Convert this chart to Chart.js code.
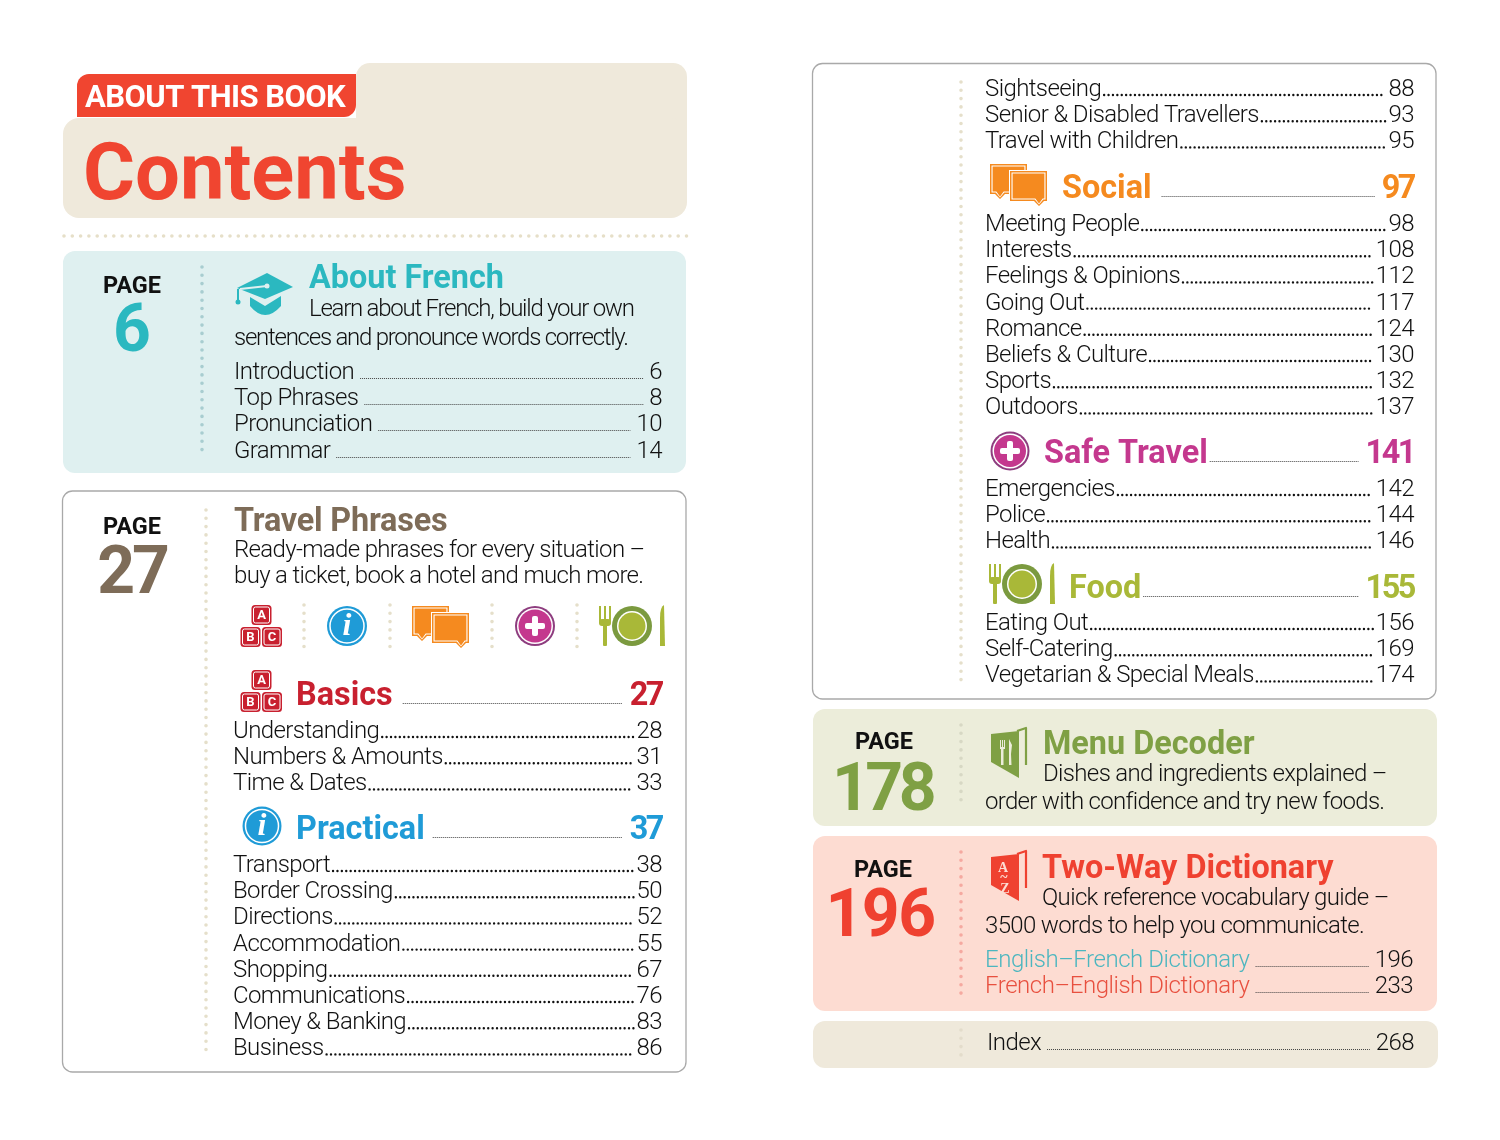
<!DOCTYPE html>
<html>
<head>
<meta charset="utf-8">
<title>Contents</title>
<script src="https://cdn.jsdelivr.net/npm/chart.js@4/dist/chart.umd.min.js"></script>
<style>
  html, body { margin: 0; padding: 0; background: #fff; }
  canvas { display: block; }
</style>
</head>
<body>
<canvas id="contentsChart" width="1500" height="1140"></canvas>
<script>
// contents rows: names and page numbers
const aboutLabels = ['Introduction', 'Top Phrases', 'Pronunciation', 'Grammar'];
const aboutPages = [6, 8, 10, 14];
const basicsLabels = ['Understanding', 'Numbers & Amounts', 'Time & Dates'];
const basicsPages = [28, 31, 33];
const practicalLabels = ['Transport', 'Border Crossing', 'Directions', 'Accommodation', 'Shopping', 'Communications', 'Money & Banking', 'Business'];
const practicalPages = [38, 50, 52, 55, 67, 76, 83, 86];
const practicalMoreLabels = ['Sightseeing', 'Senior & Disabled Travellers', 'Travel with Children'];
const practicalMorePages = [88, 93, 95];
const socialLabels = ['Meeting People', 'Interests', 'Feelings & Opinions', 'Going Out', 'Romance', 'Beliefs & Culture', 'Sports', 'Outdoors'];
const socialPages = [98, 108, 112, 117, 124, 130, 132, 137];
const safeLabels = ['Emergencies', 'Police', 'Health'];
const safePages = [142, 144, 146];
const foodLabels = ['Eating Out', 'Self-Catering', 'Vegetarian & Special Meals'];
const foodPages = [156, 169, 174];
const dictionaryLabels = ['English–French Dictionary', 'French–English Dictionary'];
const dictionaryPages = [196, 233];
const headingLabels = ['Basics', 'Practical', 'Social', 'Safe Travel', 'Food'];
const headingPages = [27, 37, 97, 141, 155];

const ROW = 26.2;
const LEFT_X = 233, LEFT_END = 662, RIGHT_X = 985, RIGHT_END = 1414;
const BODY = '300 24px Roboto';
const HEAD = '700 32.4px Roboto';
const BIG = '700 66px Roboto';
const PAGE = '700 23.5px Roboto';
const INK = '#111';
const BODY_SP = '-0.6px', NUM_SP = '-2.4px', BIG_SP = '-3px';

const measure = document.createElement('canvas').getContext('2d');
function textWidth(str, font, spacing) {
    measure.font = font;
    measure.letterSpacing = spacing || '0px';
    return measure.measureText(str).width;
}

function dotted(x1, y1, x2, y2, color, width, gap) {
    return {
        data: [{ x: x1, y: y1 }, { x: x2, y: y2 }],
        borderColor: color, borderWidth: width, borderDash: [0, gap],
        borderCapStyle: 'round', pointRadius: 0, tension: 0
    };
}
function fine(x1, x2, y) {
    return {
        data: [{ x: x1, y: y }, { x: x2, y: y }],
        borderColor: '#444', borderWidth: 1, borderDash: [1, 1],
        pointRadius: 0, tension: 0
    };
}

const datasets = [];
const texts = [];

function put(str, x, y, font, color, align, spacing) {
    texts.push({ str, x, y, font, color, align: align || 'left', spacing: spacing || '0px' });
}

// rows with round dot leaders
function dotRows(labels, pages, x, end, y0) {
    labels.forEach((name, i) => {
        const y = y0 + i * ROW;
        put(name, x, y, BODY, INK, 'left', BODY_SP);
        put(String(pages[i]), end, y, BODY, INK, 'right', BODY_SP);
        const from = x + textWidth(name, BODY, BODY_SP) + 3;
        const to = end - textWidth(String(pages[i]), BODY, BODY_SP) - 3;
        datasets.push(dotted(from, y - 1, to, y - 1, '#111', 2.4, 4.4));
    });
}
// rows with fine leaders
function fineRows(labels, pages, x, end, y0, color, spacing) {
    const sp = spacing || BODY_SP;
    labels.forEach((name, i) => {
        const y = y0 + i * ROW;
        put(name, x, y, BODY, color ? color[i] : INK, 'left', sp);
        put(String(pages[i]), end, y, BODY, INK, 'right', BODY_SP);
        const from = x + textWidth(name, BODY, sp) + 6;
        const to = end - textWidth(String(pages[i]), BODY, BODY_SP) - 6;
        datasets.push(fine(from, to, Math.round(y) - 0.5));
    });
}
function heading(i, x, end, y, color, gap) {
    const name = headingLabels[i], num = String(headingPages[i]);
    put(name, x, y + 1, HEAD, color);
    put(num, end, y + 1, HEAD, color, 'right', NUM_SP);
    datasets.push(fine(x + textWidth(name, HEAD) + gap, end - textWidth(num, HEAD, NUM_SP) - 7, y - 0.5));
}

// left column
put('ABOUT THIS BOOK', 85, 107, '700 31px Roboto', '#fff', 'left', '-0.55px');
put('Contents', 83, 199, '700 79.5px Roboto', '#f04530');

put('PAGE', 132, 293, PAGE, '#111', 'center');
put('6', 132, 351, BIG, '#2bb8c0', 'center');
put('About French', 309, 288, HEAD, '#2bb8c0');
put('Learn about French, build your own', 309, 316, BODY, INK, 'left', '-1.25px');
put('sentences and pronounce words correctly.', 234, 345, BODY, INK, 'left', '-1.25px');
fineRows(aboutLabels, aboutPages, 234, LEFT_END, 379);

put('PAGE', 132, 534, PAGE, '#111', 'center');
put('27', 132, 593, BIG, '#7e6c58', 'center', BIG_SP);
put('Travel Phrases', 234, 531, HEAD, '#7e6c58', 'left', '-0.2px');
put('Ready-made phrases for every situation –', 234, 557, BODY, INK, 'left', '-0.66px');
put('buy a ticket, book a hotel and much more.', 234, 583, BODY, INK, 'left', '-0.66px');

heading(0, 296, LEFT_END, 704, '#c8202f', 10);
dotRows(basicsLabels, basicsPages, LEFT_X, LEFT_END, 738);
heading(1, 296, LEFT_END, 838, '#1f9bd7', 8);
dotRows(practicalLabels, practicalPages, LEFT_X, LEFT_END, 872);

// right column
dotRows(practicalMoreLabels, practicalMorePages, RIGHT_X, RIGHT_END, 96);
heading(2, 1062, RIGHT_END, 197, '#f58a1f', 10);
dotRows(socialLabels, socialPages, RIGHT_X, RIGHT_END, 231);
heading(3, 1044, RIGHT_END, 462, '#c4388e', 2);
dotRows(safeLabels, safePages, RIGHT_X, RIGHT_END, 496);
heading(4, 1069, RIGHT_END, 597, '#a9b838', 2);
dotRows(foodLabels, foodPages, RIGHT_X, RIGHT_END, 630);

put('PAGE', 884, 749, PAGE, '#111', 'center');
put('178', 882, 810, BIG, '#7fa044', 'center', '-4.5px');
put('Menu Decoder', 1043, 754, HEAD, '#7fa044');
put('Dishes and ingredients explained –', 1043, 781, BODY, INK, 'left', '-0.65px');
put('order with confidence and try new foods.', 985, 809, BODY, INK, 'left', '-0.7px');

put('PAGE', 883, 877, PAGE, '#111', 'center');
put('196', 880, 936, BIG, '#ef4130', 'center', '-1.5px');
put('Two-Way Dictionary', 1042, 878, HEAD, '#ef4130');
put('Quick reference vocabulary guide –', 1042, 905, BODY, INK, 'left', '-0.65px');
put('3500 words to help you communicate.', 985, 933, BODY, INK, 'left', '-0.65px');
fineRows(dictionaryLabels, dictionaryPages, RIGHT_X, 1413, 967, ['#4cb6bf', '#e8503f'], '-0.45px');

fineRows(['Index'], [268], 987, RIGHT_END, 1050);

// dotted rules
datasets.push(dotted(64, 236, 687, 236, '#e6dfc8', 3.6, 8.3));
datasets.push(dotted(202, 267, 202, 456, '#a8cdd0', 3.6, 8.3));
datasets.push(dotted(206, 510, 206, 1056, '#e5dfca', 3.6, 8.3));
datasets.push(dotted(961, 82, 961, 682, '#e5dfca', 3.6, 8.3));
datasets.push(dotted(961, 725, 961, 808, '#d7d8c4', 3.6, 8.3));
datasets.push(dotted(961, 852, 961, 996, '#f5a9a0', 3.6, 8.3));
datasets.push(dotted(961, 1030, 961, 1061, '#e3dccb', 3.6, 8.3));
[304, 390, 492, 577].forEach(x => datasets.push(dotted(x, 605, x, 648, '#e5dfca', 3.6, 8.3)));

// icons
function blocks(c, x, y) {
    const one = (bx, by, t) => {
        c.fillStyle = '#c8202f';
        c.beginPath(); c.roundRect(bx - 10, by - 10, 20, 20, 3.5); c.fill();
        c.strokeStyle = '#fff'; c.lineWidth = 1;
        c.beginPath(); c.roundRect(bx - 8, by - 8, 16, 16, 2); c.stroke();
        c.fillStyle = '#fff'; c.font = '700 13px Roboto';
        c.textAlign = 'center'; c.textBaseline = 'middle';
        c.letterSpacing = '0px';
        c.fillText(t, bx, by + 0.5);
    };
    one(x + 0.5, y - 11, 'A'); one(x - 10.5, y + 11, 'B'); one(x + 11, y + 11, 'C');
}
function info(c, x, y, r) {
    c.fillStyle = '#1f9bd7';
    c.beginPath(); c.arc(x, y, r, 0, Math.PI * 2); c.fill();
    c.strokeStyle = '#fff'; c.lineWidth = 1.5;
    c.beginPath(); c.arc(x, y, r - 3, 0, Math.PI * 2); c.stroke();
    c.fillStyle = '#fff'; c.font = 'italic 700 32px "Liberation Serif"';
    c.textAlign = 'center'; c.textBaseline = 'middle';
    c.fillText('i', x, y + 1);
}
function bubble(c, x, y, w, h, tailX, inset) {
    const l = x + inset, t = y + inset, r = x + w - inset, b = y + h - inset;
    c.beginPath();
    c.moveTo(l, t); c.lineTo(r, t); c.lineTo(r, b);
    c.lineTo(tailX + 6 - inset / 2, b); c.lineTo(tailX + 1, y + h + 5 - inset);
    c.lineTo(tailX - 4 + inset / 2, b); c.lineTo(l, b); c.closePath();
}
function bubbles(c, x, y) {
    c.lineJoin = 'round';
    const draw = (bx, by, w, h, tail) => {
        c.fillStyle = '#f58a1f'; bubble(c, bx, by, w, h, tail, 0); c.fill();
        c.fillStyle = '#fff'; bubble(c, bx, by, w, h, tail, 1.5); c.fill();
        c.fillStyle = '#f58a1f'; bubble(c, bx, by, w, h, tail, 2.6); c.fill();
    };
    draw(x - 29, y - 20, 37, 30, x - 20);
    c.fillStyle = '#fff'; c.fillRect(x - 10, y - 14, 39, 31);
    draw(x - 9, y - 13, 37, 30, x + 19);
}
function plus(c, x, y, r) {
    c.fillStyle = '#8e3d7f';
    c.beginPath(); c.arc(x, y, r, 0, Math.PI * 2); c.fill();
    c.fillStyle = '#fff';
    c.beginPath(); c.arc(x, y, r - 2, 0, Math.PI * 2); c.fill();
    c.fillStyle = '#c4388e';
    c.beginPath(); c.arc(x, y, r - 3.5, 0, Math.PI * 2); c.fill();
    c.fillStyle = '#fff';
    c.beginPath(); c.roundRect(x - 10, y - 3, 20, 6, 2); c.fill();
    c.beginPath(); c.roundRect(x - 3, y - 10, 6, 20, 2); c.fill();
}
function plate(c, x, y) {
    c.fillStyle = '#7b9a3f';
    c.beginPath(); c.arc(x, y, 20, 0, Math.PI * 2); c.fill();
    c.fillStyle = '#fff';
    c.beginPath(); c.arc(x, y, 15, 0, Math.PI * 2); c.fill();
    c.fillStyle = '#a9b838';
    c.beginPath(); c.arc(x, y, 13.5, 0, Math.PI * 2); c.fill();
    // fork
    c.beginPath(); c.roundRect(x - 29, y - 2, 4, 22, 1); c.fill();
    c.beginPath(); c.roundRect(x - 33, y - 7, 12, 7, 3); c.fill();
    c.fillRect(x - 33, y - 20, 2, 16);
    c.fillRect(x - 28, y - 20, 2, 16);
    c.fillRect(x - 23, y - 20, 2, 16);
    // knife
    c.beginPath();
    c.moveTo(x + 28, y + 20); c.lineTo(x + 28, y - 8);
    c.quadraticCurveTo(x + 28, y - 19, x + 32, y - 21);
    c.lineTo(x + 33, y + 20); c.closePath(); c.fill();
}
function cap(c, x, y) {
    const teal = '#2bb8c0';
    c.fillStyle = teal;
    c.beginPath();
    c.moveTo(x - 14, y + 4); c.lineTo(x + 1, y + 13); c.lineTo(x + 17, y + 3);
    c.lineTo(x + 17, y + 13);
    c.quadraticCurveTo(x + 1, y + 31, x - 14, y + 13); c.closePath(); c.fill();
    c.beginPath();
    c.moveTo(x + 3, y - 20); c.lineTo(x + 29, y - 6); c.lineTo(x + 1, y + 6);
    c.lineTo(x - 27, y - 5); c.closePath(); c.fill();
    c.strokeStyle = '#dff0f0'; c.lineWidth = 2;
    c.beginPath(); c.moveTo(x + 3, y - 7); c.lineTo(x - 24, y - 4); c.stroke();
    c.fillStyle = '#dff0f0';
    c.beginPath(); c.arc(x + 3, y - 7, 2.5, 0, Math.PI * 2); c.fill();
    c.strokeStyle = teal; c.lineWidth = 2;
    c.beginPath(); c.moveTo(x - 26, y - 4); c.lineTo(x - 26, y + 8); c.stroke();
    c.fillStyle = teal;
    c.beginPath(); c.arc(x - 26, y + 9, 2.5, 0, Math.PI * 2); c.fill();
}
function book(c, x, y, color) {
    c.fillStyle = color;
    c.beginPath();
    c.moveTo(x - 18, y - 20); c.lineTo(x + 10, y - 23); c.lineTo(x + 10, y + 24);
    c.lineTo(x - 18, y + 8); c.closePath(); c.fill();
    c.strokeStyle = color; c.lineWidth = 2.2;
    c.beginPath(); c.moveTo(x + 8, y - 23); c.lineTo(x + 17, y - 26); c.lineTo(x + 17, y + 11); c.stroke();
}
function cutlery(c, x, y, color) {
    c.fillStyle = color;
    c.fillRect(x - 9, y - 13, 1, 8);
    c.fillRect(x - 7, y - 13, 1, 8);
    c.fillRect(x - 5, y - 13, 1, 8);
    c.fillRect(x - 9, y - 6, 5, 2);
    c.fillRect(x - 8, y - 5, 2.5, 17);
    c.beginPath();
    c.moveTo(x, y - 14); c.lineTo(x + 3, y - 8); c.lineTo(x + 2, y + 1);
    c.lineTo(x + 2.5, y + 12); c.lineTo(x, y + 12); c.closePath(); c.fill();
}

const pagePlugin = {
    id: 'pagePlugin',
    beforeDatasetsDraw(chart) {
        const c = chart.ctx, sx = chart.scales.x, sy = chart.scales.y;
        const X = v => sx.getPixelForValue(v), Y = v => sy.getPixelForValue(v);
        const box = (x1, y1, x2, y2, r, fill, line) => {
            c.beginPath();
            c.roundRect(X(x1), Y(y1), X(x2) - X(x1), Y(y2) - Y(y1), r);
            if (fill) { c.fillStyle = fill; c.fill(); }
            if (line) { c.strokeStyle = line; c.lineWidth = 1.3; c.stroke(); }
        };
        c.save();
        box(356, 63, 687, 140, [14, 14, 0, 0], '#efe9db');
        box(63, 118, 687, 218, 16, '#efe9db');
        box(77, 74, 356, 117, [12, 0, 12, 0], '#f04530');
        box(63, 251, 686, 473, 12, '#dff0f0');
        box(62.5, 491, 686, 1072, 10, '#fff', '#a9a9a9');
        box(812.5, 63.5, 1436, 699, 10, '#fff', '#a9a9a9');
        box(813, 709, 1437, 826, 12, '#ecedda');
        box(813, 836, 1437, 1011, 12, '#fddcd2');
        box(813, 1021, 1438, 1068, 12, '#efe9db');
        c.restore();
    },
    afterDatasetsDraw(chart) {
        const c = chart.ctx, sx = chart.scales.x, sy = chart.scales.y;
        const X = v => sx.getPixelForValue(v), Y = v => sy.getPixelForValue(v);
        c.save();
        blocks(c, X(261), Y(626));
        info(c, X(347), Y(626), 20);
        bubbles(c, X(441), Y(626));
        plus(c, X(535), Y(626), 20);
        plate(c, X(632), Y(626));
        blocks(c, X(261), Y(691));
        info(c, X(262), Y(826), 19.5);
        bubbles(c, X(1019), Y(184));
        plus(c, X(1010), Y(451), 19.5);
        plate(c, X(1022), Y(584));
        cap(c, X(264), Y(293));
        book(c, X(1009), Y(754), '#7fa044');
        cutlery(c, X(1009), Y(753), '#ecedda');
        book(c, X(1009), Y(877), '#ef4130');

        c.fillStyle = '#fddcd2'; c.font = '700 14px "Liberation Serif"';
        c.textAlign = 'center'; c.textBaseline = 'middle';
        c.fillText('A', X(1003), Y(868));
        c.fillText('~', X(1004), Y(878));
        c.fillText('Z', X(1005), Y(889));

        texts.forEach(t => {
            c.font = t.font;
            c.letterSpacing = t.spacing;
            c.fillStyle = t.color;
            c.textAlign = t.align;
            c.textBaseline = 'alphabetic';
            c.fillText(t.str, X(t.x), Y(t.y));
        });
        c.restore();
    }
};

new Chart(document.getElementById('contentsChart'), {
    type: 'line',
    data: { datasets },
    plugins: [pagePlugin],
    options: {
        responsive: false,
        animation: false,
        devicePixelRatio: 1,
        layout: { padding: 0 },
        plugins: { legend: { display: false }, tooltip: { enabled: false }, title: { display: false } },
        scales: {
            x: { type: 'linear', min: 0, max: 1500, display: false },
            y: { type: 'linear', min: 0, max: 1140, reverse: true, display: false }
        }
    }
});
</script>
</body>
</html>
